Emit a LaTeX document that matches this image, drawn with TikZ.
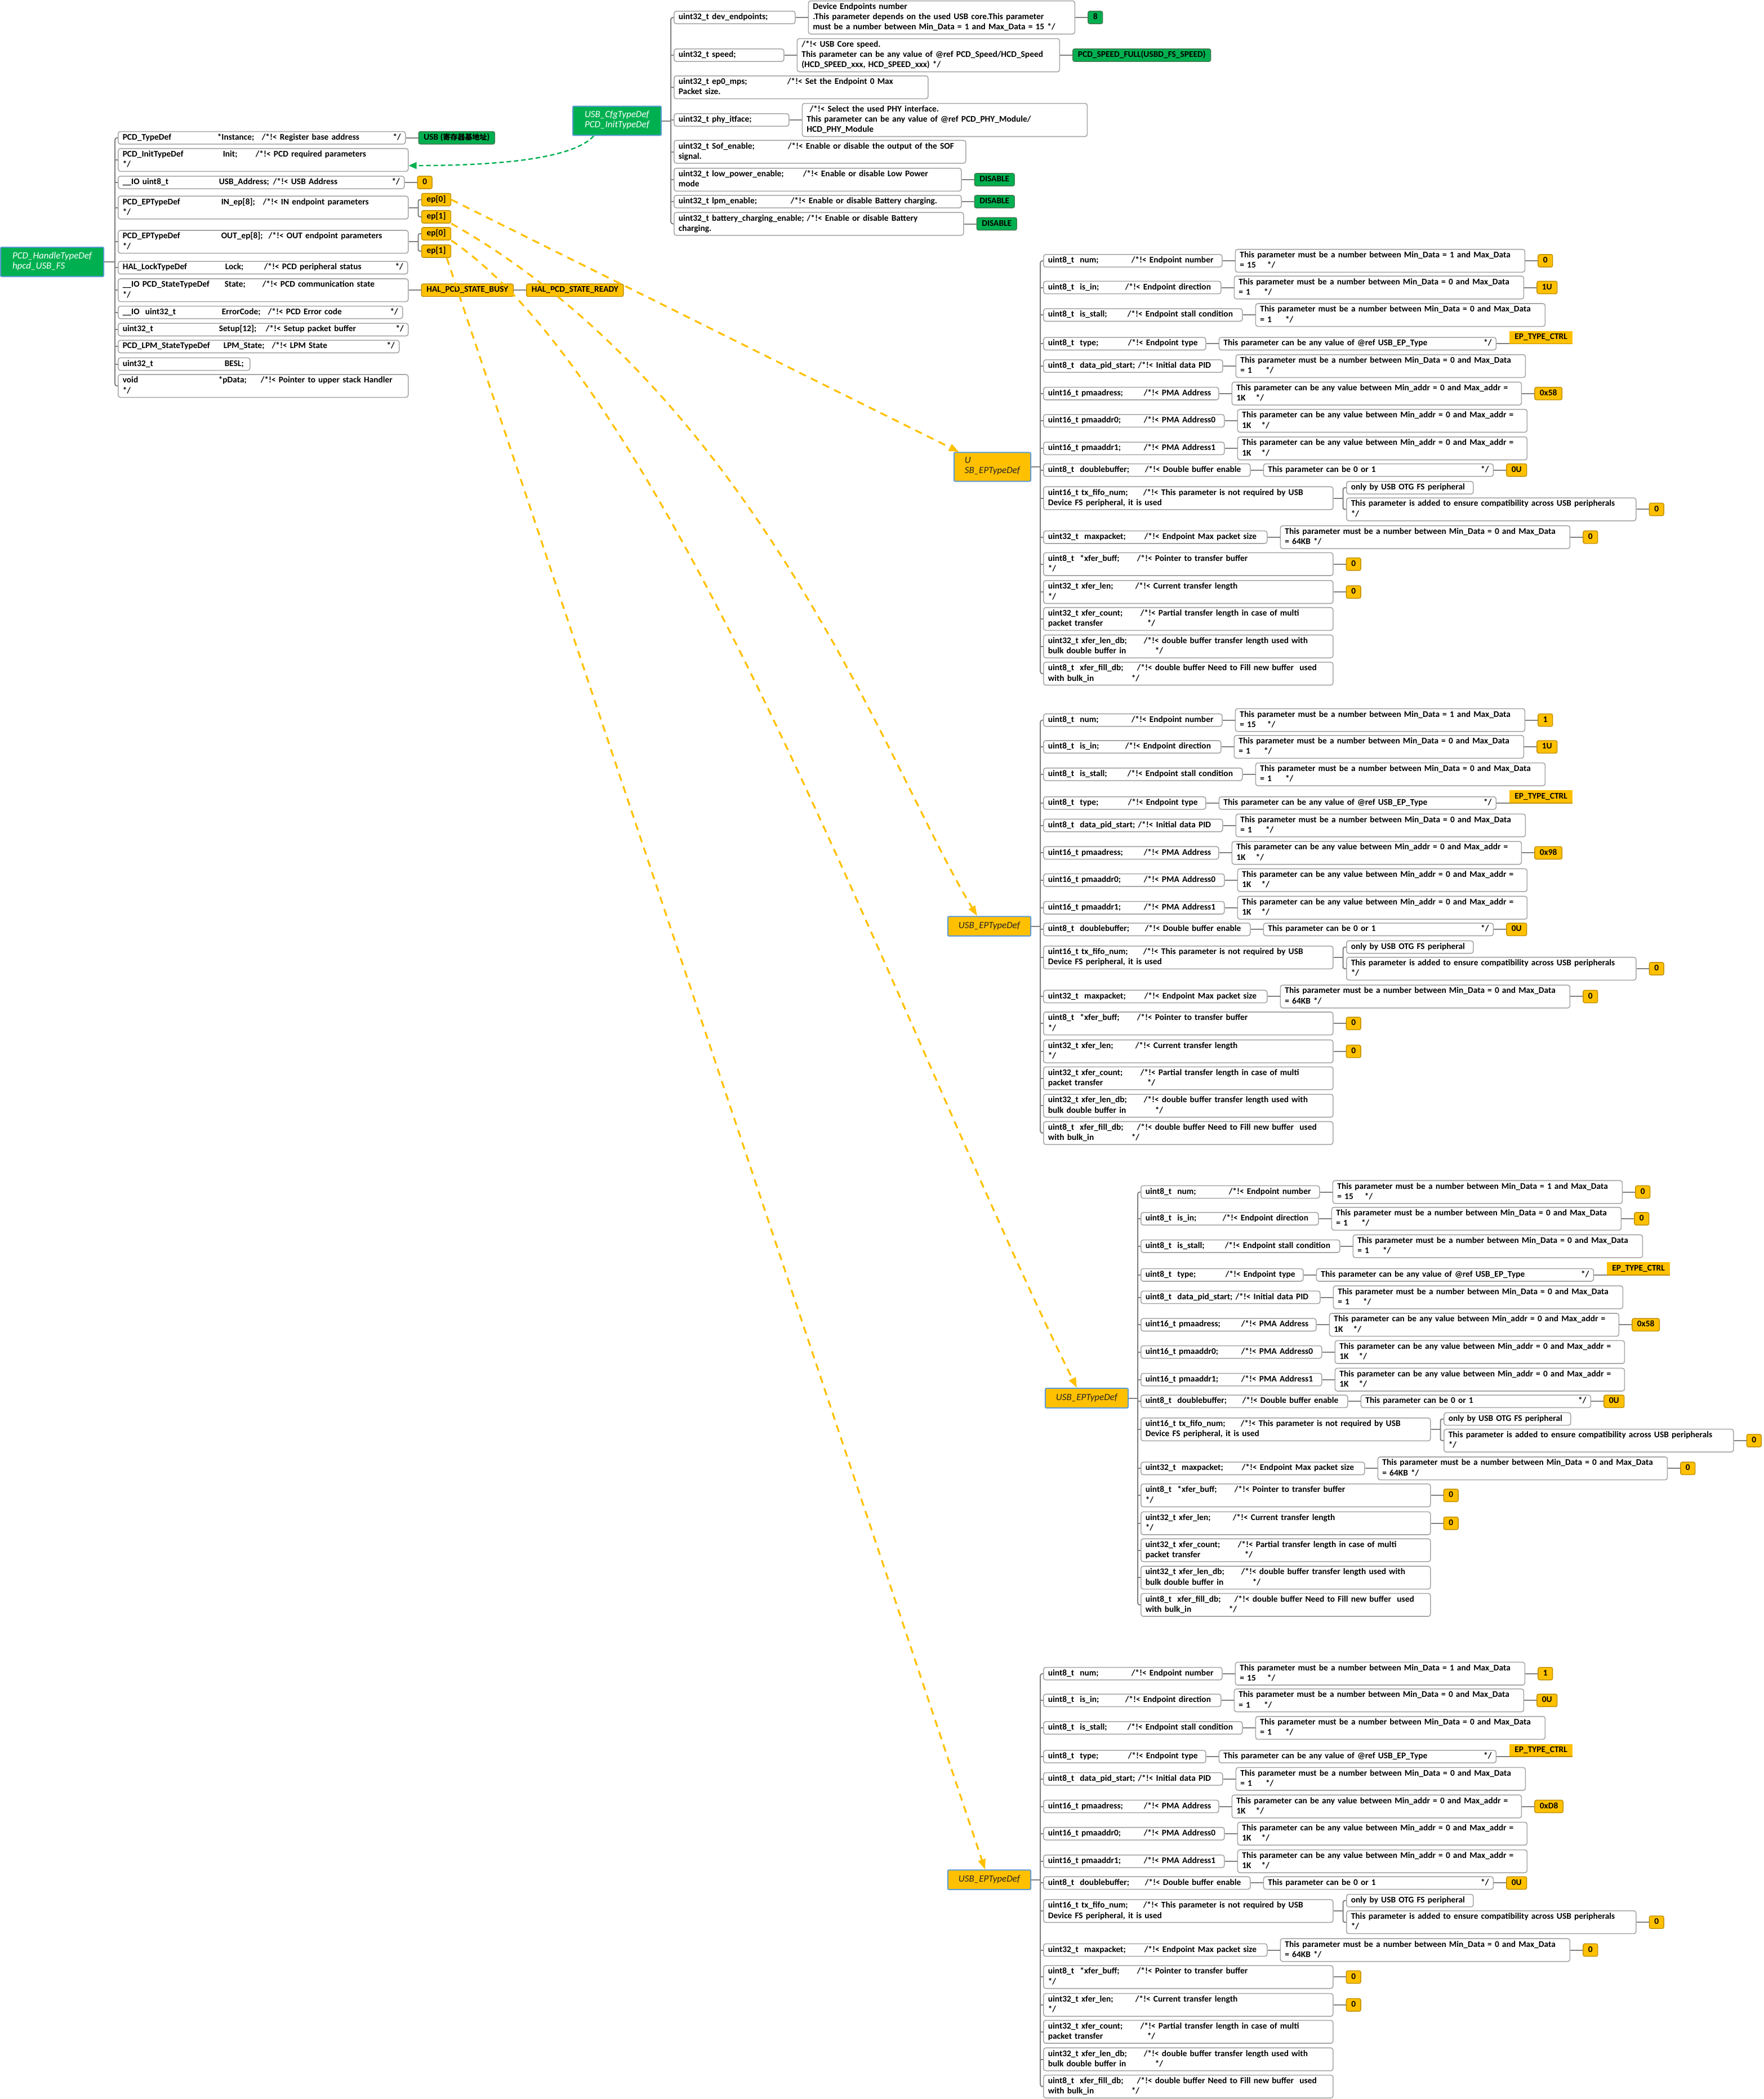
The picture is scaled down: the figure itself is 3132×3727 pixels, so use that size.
\documentclass[tikz,border=0pt]{standalone}
\usepackage{fontspec}
\setmainfont{Carlito}
\newfontfamily\cjkfont{Noto Sans CJK SC}
\usetikzlibrary{arrows.meta,positioning}
\definecolor{VerdeUSB}{RGB}{0,176,80}
\definecolor{VerdeBorde}{RGB}{70,120,80}
\definecolor{Ambar}{RGB}{255,192,0}
\definecolor{AmbarBorde}{RGB}{191,144,0}
\definecolor{AzulBorde}{RGB}{91,155,213}
\definecolor{GrisBorde}{RGB}{166,166,166}
\definecolor{GrisLinea}{RGB}{128,128,128}
\definecolor{TextoOscuro}{RGB}{38,38,38}
\newcommand{\mapfont}{\fontsize{15.4}{18.3}\selectfont\bfseries}
\newcommand{\rootfont}{\fontsize{17}{18.3}\selectfont\itshape}
\newcommand{\campo}[2]{\makebox[#1][l]{#2}}
\tikzset{
  rootbox/.style={draw=AzulBorde, line width=2pt, fill=VerdeUSB, text=white, rounded corners=2pt,
    align=left, font=\rootfont, inner xsep=21pt, inner ysep=8.2pt,
    execute at begin node=\strut, execute at end node=\strut},
  eproot/.style={rootbox, fill=Ambar, text=TextoOscuro, inner xsep=19pt},
  fieldbox/.style={draw=GrisBorde, line width=1.6pt, rounded corners=4pt, fill=white,
    align=left, text width=#1, font=\mapfont, inner xsep=8pt, inner ysep=2pt, anchor=west,
    execute at begin node={\noindent\strut}, execute at end node=\strut},
  fieldbox/.default=300pt,
  descbox/.style={fieldbox=#1},
  descbox/.default=498pt,
  valbox/.style={draw=AmbarBorde, line width=1.4pt, rounded corners=3pt, fill=Ambar,
    font=\mapfont, inner xsep=9pt, inner ysep=2pt, execute at begin node=\strut},
  okbox/.style={valbox, fill=VerdeUSB, draw=VerdeBorde},
  tagbox/.style={fill=Ambar, font=\mapfont, inner xsep=9pt, inner ysep=2pt,
    execute at begin node=\strut},
  treeline/.style={draw=GrisLinea, line width=2pt},
  linkarr/.style={draw=VerdeUSB, line width=2.4pt, dash pattern=on 8pt off 5pt,
    -{Triangle[length=14pt, width=12pt]}},
  relarr/.style={draw=Ambar, line width=3.2pt, dash pattern=on 13pt off 10pt,
    -{Triangle[length=18pt, width=13pt]}},
}
% un bloque USB_EPTypeDef: #1 prefijo, #2 desplazamiento, #3 raiz, #4 num, #5 is_in, #6 pmaadress
\newcommand{\epblock}[6]{%
  \begin{scope}[shift={#2}]
    \node[eproot, anchor=east] (#1root) at (1831,829) {#3};
    \coordinate (#1spine) at (1847,829);
    % campos
    \node[fieldbox=301pt] (#1num)   at (1852,463)    {\campo{148pt}{uint8\_t~~num;}/*!< Endpoint number};
    \node[fieldbox=299pt] (#1isin)  at (1852,510.5)  {\campo{137pt}{uint8\_t~~is\_in;}/*!< Endpoint direction};
    \node[fieldbox=337pt] (#1stall) at (1852,559.3)  {\campo{141pt}{uint8\_t~~is\_stall;}/*!< Endpoint stall condition};
    \node[fieldbox=272pt] (#1type)  at (1852,610.3)  {\campo{142pt}{uint8\_t~~type;}/*!< Endpoint type};
    \node[fieldbox=302pt] (#1pid)   at (1852,650)    {uint8\_t~~data\_pid\_start; /*!< Initial data PID};
    \node[fieldbox=295pt] (#1pma)   at (1852,698.8)  {\campo{170pt}{uint16\_t pmaadress;}/*!< PMA Address};
    \node[fieldbox=305pt] (#1pmaa)  at (1852,747.2)  {\campo{170pt}{uint16\_t pmaaddr0;}/*!< PMA Address0};
    \node[fieldbox=305pt] (#1pmab)  at (1852,796.2)  {\campo{170pt}{uint16\_t pmaaddr1;}/*!< PMA Address1};
    \node[fieldbox=351pt] (#1dbuf)  at (1852,834.7)  {\campo{172pt}{uint8\_t~~doublebuffer;}/*!< Double buffer enable};
    \node[fieldbox=498pt] (#1tx)    at (1852,884.5)  {\campo{169pt}{uint16\_t tx\_fifo\_num;}/*!< This parameter is not required by USB\\Device FS peripheral, it is used};
    \node[fieldbox=381pt] (#1maxp)  at (1852,953.8)  {\campo{171pt}{uint32\_t~~maxpacket;}/*!< Endpoint Max packet size};
    \node[fieldbox=498pt] (#1buff)  at (1852,1001.7) {\campo{158pt}{uint8\_t~~*xfer\_buff;}/*!< Pointer to transfer buffer\\{}*/};
    \node[fieldbox=498pt] (#1len)   at (1852,1051.2) {\campo{155pt}{uint32\_t xfer\_len;}/*!< Current transfer length\\{}*/};
    \node[fieldbox=498pt] (#1count) at (1852,1099)   {\campo{164pt}{uint32\_t xfer\_count;}/*!< Partial transfer length in case of multi\\\campo{176pt}{packet transfer}*/};
    \node[fieldbox=498pt] (#1lendb) at (1852,1147.8) {\campo{170pt}{uint32\_t xfer\_len\_db;}/*!< double buffer transfer length used with\\\campo{190pt}{bulk double buffer in}*/};
    \node[fieldbox=498pt] (#1fill)  at (1852,1196.2) {\campo{158pt}{uint8\_t~~xfer\_fill\_db;}/*!< double buffer Need to Fill new buffer~~used\\\campo{148pt}{with bulk\_in}*/};
    % descripciones
    \node[descbox, right=22pt of #1num]   (#1dnum)   {This parameter must be a number between Min\_Data = 1 and Max\_Data\\= 15\hspace{20pt}*/};
    \node[descbox, right=22pt of #1isin]  (#1disin)  {This parameter must be a number between Min\_Data = 0 and Max\_Data\\= 1\hspace{24pt}*/};
    \node[descbox, right=22pt of #1stall] (#1dstall) {This parameter must be a number between Min\_Data = 0 and Max\_Data\\= 1\hspace{24pt}*/};
    \node[descbox=476pt, right=22pt of #1type] (#1dtype) {This parameter can be any value of @ref USB\_EP\_Type\hfill */};
    \node[descbox, right=22pt of #1pid]   (#1dpid)   {This parameter must be a number between Min\_Data = 0 and Max\_Data\\= 1\hspace{24pt}*/};
    \node[descbox, right=22pt of #1pma]   (#1dpma)   {This parameter can be any value between Min\_addr = 0 and Max\_addr =\\1K\hspace{18pt}*/};
    \node[descbox, right=22pt of #1pmaa]  (#1dpmaa)  {This parameter can be any value between Min\_addr = 0 and Max\_addr =\\1K\hspace{18pt}*/};
    \node[descbox, right=22pt of #1pmab]  (#1dpmab)  {This parameter can be any value between Min\_addr = 0 and Max\_addr =\\1K\hspace{18pt}*/};
    \node[descbox=392pt, right=22pt of #1dbuf] (#1ddbuf) {This parameter can be 0 or 1\hfill */};
    \node[descbox=209pt] (#1only)  at (2390,866)   {only by USB OTG FS peripheral};
    \node[descbox]       (#1added) at (2390,904.4) {This parameter is added to ensure compatibility across USB peripherals\\{}*/};
    \node[descbox, right=22pt of #1maxp]  (#1dmaxp)  {This parameter must be a number between Min\_Data = 0 and Max\_Data\\= 64KB */};
    % valores
    \node[valbox, right=22pt of #1dnum]   (#1vnum)   {#4};
    \node[valbox, right=22pt of #1disin]  (#1visin)  {#5};
    \node[tagbox, anchor=south west] (#1vtype) at ([xshift=23pt]#1dtype.east) {EP\_TYPE\_CTRL};
    \node[valbox, right=22pt of #1dpma]   (#1vpma)   {#6};
    \node[valbox, right=22pt of #1ddbuf]  (#1vdbuf)  {0U};
    \node[valbox, right=22pt of #1added]  (#1vadded) {0};
    \node[valbox, right=22pt of #1dmaxp]  (#1vmaxp)  {0};
    \node[valbox, right=22pt of #1buff]   (#1vbuff)  {0};
    \node[valbox, right=22pt of #1len]    (#1vlen)   {0};
    % ramas
    \draw[treeline] (#1root.east) -- (#1spine);
    \draw[treeline, rounded corners=4pt] (#1num.west) -| (#1spine) |- (#1fill.west);
    \foreach \nm in {isin,stall,type,pid,pma,pmaa,pmab,dbuf,tx,maxp,buff,len,count,lendb}
      \draw[treeline] (#1spine |- #1\nm.west) -- (#1\nm.west);
    \foreach \nm in {num,isin,stall,type,pid,pma,pmaa,pmab,dbuf,maxp}
      \draw[treeline] (#1\nm) -- (#1d\nm);
    \foreach \nm in {num,isin,pma,dbuf,maxp}
      \draw[treeline] (#1d\nm) -- (#1v\nm);
    \draw[treeline] (#1buff) -- (#1vbuff);
    \draw[treeline] (#1len) -- (#1vlen);
    \draw[treeline] (#1added) -- (#1vadded);
    \draw[treeline] (#1dtype.east) -- (#1vtype.south west);
    \draw[AmbarBorde, line width=1.6pt] (#1vtype.south west) -- (#1vtype.south east);
    \coordinate (#1txspine) at ([xshift=17pt]#1tx.east);
    \draw[treeline] (#1tx.east) -- (#1txspine);
    \draw[treeline, rounded corners=3pt] (#1only.west) -| (#1txspine) |- (#1added.west);
  \end{scope}}

\begin{document}
\begin{tikzpicture}[x=1pt, y=-1pt]
  \fill[white] (0,0) rectangle (3132,3727);
  \useasboundingbox (0,0) rectangle (3132,3727);

  % ---- PCD_HandleTypeDef ----
  \node[rootbox, anchor=west] (hpcd) at (0,465) {PCD\_HandleTypeDef\\hpcd\_USB\_FS};
  \coordinate (hpcdspine) at (204,465);
  \node[fieldbox=494pt] (pcd1)  at (209,244.7) {\campo{168pt}{PCD\_TypeDef}\campo{79pt}{*Instance;}/*!< Register base address\hfill */};
  \node[fieldbox=499pt] (pcd2)  at (209,284)   {\campo{178pt}{PCD\_InitTypeDef}\campo{58pt}{Init;}/*!< PCD required parameters\\{}*/};
  \node[fieldbox=492pt] (pcd3)  at (209,324)   {\campo{171pt}{\_\_IO uint8\_t}\campo{96pt}{USB\_Address;}/*!< USB Address\hfill */};
  \node[fieldbox=499pt] (pcd4)  at (209,368.5) {\campo{175pt}{PCD\_EPTypeDef}\campo{74pt}{IN\_ep[8];}/*!< IN endpoint parameters\\{}*/};
  \node[fieldbox=499pt] (pcd5)  at (209,429.3) {\campo{175pt}{PCD\_EPTypeDef}\campo{84pt}{OUT\_ep[8];}/*!< OUT endpoint parameters\\{}*/};
  \node[fieldbox=498pt] (pcd6)  at (209,475.3) {\campo{182pt}{HAL\_LockTypeDef}\campo{69pt}{Lock;}/*!< PCD peripheral status\hfill */};
  \node[fieldbox=499pt] (pcd7)  at (209,515.3) {\campo{181pt}{\_\_IO PCD\_StateTypeDef}\campo{67pt}{State;}/*!< PCD communication state\\{}*/};
  \node[fieldbox=489pt] (pcd8)  at (209,554.7) {\campo{176pt}{\_\_IO~~uint32\_t}\campo{82pt}{ErrorCode;}/*!< PCD Error code\hfill */};
  \node[fieldbox=499pt] (pcd9)  at (209,585.3) {\campo{171pt}{uint32\_t}\campo{83pt}{Setup[12];}/*!< Setup packet buffer\hfill */};
  \node[fieldbox=483pt] (pcd10) at (209,615.3) {\campo{179pt}{PCD\_LPM\_StateTypeDef}\campo{86pt}{LPM\_State;}/*!< LPM State\hfill */};
  \node[fieldbox=218pt] (pcd11) at (209,646.5) {\campo{181pt}{uint32\_t}BESL;};
  \node[fieldbox=499pt] (pcd12) at (209,685.3) {\campo{170pt}{void}\campo{75pt}{*pData;}/*!< Pointer to upper stack Handler\\{}*/};
  \draw[treeline] (hpcd.east) -- (hpcdspine);
  \draw[treeline, rounded corners=4pt] (pcd1.west) -| (hpcdspine) |- (pcd12.west);
  \foreach \nm in {2,...,11}
    \draw[treeline] (hpcdspine |- pcd\nm.west) -- (pcd\nm.west);

  \node[okbox, right=22pt of pcd1] (usbbase) {USB ({\cjkfont\fontsize{13}{18.3}\selectfont 寄存器基地址})};
  \node[valbox, right=22pt of pcd3] (usbaddr) {0};
  \draw[treeline] (pcd1) -- (usbbase);
  \draw[treeline] (pcd3) -- (usbaddr);
  \coordinate (inspine) at ([xshift=17pt]pcd4.east);
  \node[valbox, anchor=west] (epi0) at (748,354.5) {ep[0]};
  \node[valbox, anchor=west] (epi1) at (748,385)   {ep[1]};
  \draw[treeline] (pcd4.east) -- (inspine);
  \draw[treeline, rounded corners=3pt] (epi0.west) -| (inspine) |- (epi1.west);
  \coordinate (outspine) at ([xshift=17pt]pcd5.east);
  \node[valbox, anchor=west] (epo0) at (748,415) {ep[0]};
  \node[valbox, anchor=west] (epo1) at (748,446) {ep[1]};
  \draw[treeline] (pcd5.east) -- (outspine);
  \draw[treeline, rounded corners=3pt] (epo0.west) -| (outspine) |- (epo1.west);
  \node[valbox, right=22pt of pcd7] (busy) {HAL\_PCD\_STATE\_BUSY};
  \node[valbox, right=22pt of busy] (ready) {HAL\_PCD\_STATE\_READY};
  \draw[treeline] (pcd7) -- (busy);
  \draw[treeline] (busy) -- (ready);

  % ---- USB_CfgTypeDef ----
  \node[rootbox, anchor=west] (cfg) at (1016,214.5) {USB\_CfgTypeDef\\PCD\_InitTypeDef};
  \coordinate (cfgspine) at (1191,214.5);
  \node[fieldbox=199pt] (cfg1) at (1196,31)    {uint32\_t dev\_endpoints;};
  \node[fieldbox=179pt] (cfg2) at (1196,98)    {uint32\_t speed;};
  \node[fieldbox=435pt] (cfg3) at (1196,155)   {\campo{193pt}{uint32\_t ep0\_mps;}/*!< Set the Endpoint 0 Max\\Packet size.};
  \node[fieldbox=188pt] (cfg4) at (1196,213)   {uint32\_t phy\_itface;};
  \node[fieldbox=502pt] (cfg5) at (1196,269.5) {\campo{194pt}{uint32\_t Sof\_enable;}/*!< Enable or disable the output of the SOF\\signal.};
  \node[fieldbox=494pt] (cfg6) at (1196,319)   {\campo{221pt}{uint32\_t low\_power\_enable;}/*!< Enable or disable Low Power\\mode};
  \node[fieldbox=494pt] (cfg7) at (1196,358)   {\campo{199pt}{uint32\_t lpm\_enable;}/*!< Enable or disable Battery charging.};
  \node[fieldbox=498pt] (cfg8) at (1196,397.5) {uint32\_t battery\_charging\_enable; /*!< Enable or disable Battery\\charging.};
  \draw[treeline] (cfg.east) -- (cfgspine);
  \draw[treeline, rounded corners=4pt] (cfg1.west) -| (cfgspine) |- (cfg8.west);
  \foreach \nm in {2,...,7}
    \draw[treeline] (cfgspine |- cfg\nm.west) -- (cfg\nm.west);
  \node[descbox=457pt, right=22pt of cfg1] (cfgd1) {Device Endpoints number\\.This parameter depends on the used USB core.This parameter\\must be a number between Min\_Data = 1 and Max\_Data = 15 */};
  \node[descbox=450pt, right=22pt of cfg2] (cfgd2) {/*!< USB Core speed.\\This parameter can be any value of @ref PCD\_Speed/HCD\_Speed\\(HCD\_SPEED\_xxx, HCD\_SPEED\_xxx) */};
  \node[descbox=490pt, right=22pt of cfg4] (cfgd4) {~/*!< Select the used PHY interface.\\This parameter can be any value of @ref PCD\_PHY\_Module/\\HCD\_PHY\_Module};
  \node[okbox, right=22pt of cfgd1] (cfgv1) {8};
  \node[okbox, right=22pt of cfgd2] (cfgv2) {PCD\_SPEED\_FULL(USBD\_FS\_SPEED)};
  \node[okbox, right=22pt of cfg6] (cfgv6) {DISABLE};
  \node[okbox, right=22pt of cfg7] (cfgv7) {DISABLE};
  \node[okbox, right=22pt of cfg8] (cfgv8) {DISABLE};
  \draw[treeline] (cfg1) -- (cfgd1);
  \draw[treeline] (cfgd1) -- (cfgv1);
  \draw[treeline] (cfg2) -- (cfgd2);
  \draw[treeline] (cfgd2) -- (cfgv2);
  \draw[treeline] (cfg4) -- (cfgd4);
  \foreach \nm in {6,7,8}
    \draw[treeline] (cfg\nm) -- (cfgv\nm);
  \draw[linkarr] ([xshift=38pt]cfg.south west) .. controls +(-40,45) and +(130,0) .. ([yshift=-10pt]pcd2.east);

  % ---- USB_EPTypeDef ----
  \epblock{ep1}{(0,0)}{U\\SB\_EPTypeDef}{0}{1U}{0x58}
  \epblock{ep2}{(0,815.6)}{USB\_EPTypeDef}{1}{1U}{0x98}
  \epblock{ep3}{(173,1653.5)}{USB\_EPTypeDef}{0}{0}{0x58}
  \epblock{ep4}{(0,2508.7)}{USB\_EPTypeDef}{1}{0U}{0xD8}

  % ---- relaciones ep[] -> bloques ----
  \draw[relarr] (epi0.east) -- ([xshift=10pt]ep1root.north west);
  \draw[relarr] (epi1.south east) .. controls +(550,311) and +(-150,-244) .. ([xshift=53pt]ep2root.north west);
  \draw[relarr] (epo0.south east) .. controls +(400,272) and +(-300,-603) .. ([xshift=57pt]ep3root.north west);
  \draw[relarr] ([xshift=-8pt]epo1.south east) -- ([xshift=67pt]ep4root.north west);
\end{tikzpicture}
\end{document}
